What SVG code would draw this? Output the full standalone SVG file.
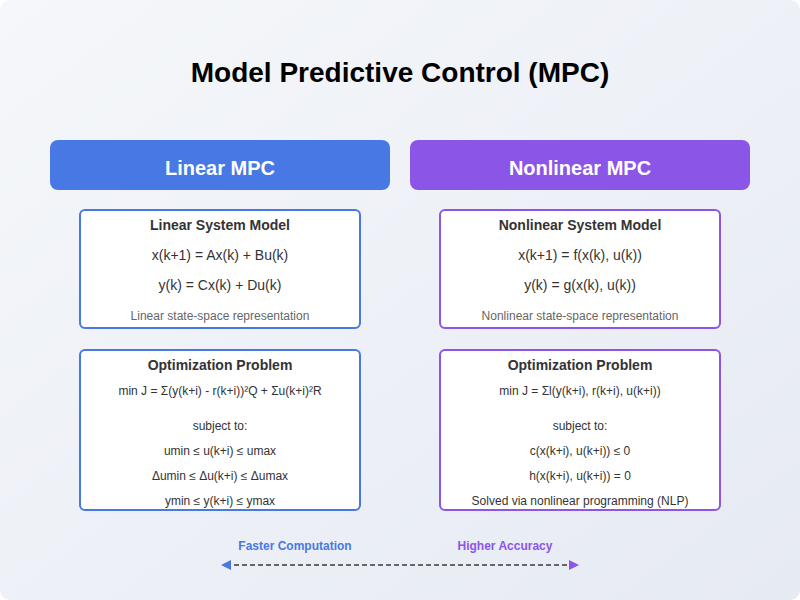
<svg xmlns="http://www.w3.org/2000/svg" width="800" height="600" viewBox="0 0 800 600">
<defs>
<linearGradient id="bg" x1="0" y1="0" x2="1" y2="1">
<stop offset="0" stop-color="#f5f7fa"/>
<stop offset="1" stop-color="#e6eaf3"/>
</linearGradient>
<marker id="mL" viewBox="0 0 10 10" refX="5" refY="5" markerWidth="10" markerHeight="10" orient="auto" markerUnits="userSpaceOnUse">
<path d="M10,0 L0,5 L10,10 z" fill="#4778e3"/>
</marker>
<marker id="mR" viewBox="0 0 10 10" refX="5" refY="5" markerWidth="10" markerHeight="10" orient="auto" markerUnits="userSpaceOnUse">
<path d="M0,0 L10,5 L0,10 z" fill="#8b55e8"/>
</marker>
<style>
text{font-family:"Liberation Sans",Arial,sans-serif;text-anchor:middle;fill:#333}
.title{font-size:28px;font-weight:bold;fill:#000}
.hdr{font-size:20px;font-weight:bold;fill:#fff}
.bt{font-size:14px;font-weight:bold;fill:#333}
.eq{font-size:14px;fill:#333}
.sm{font-size:12px;fill:#333}
.cap{font-size:12px;fill:#666}
.box{fill:#fff;stroke-width:2}
.lin{stroke:#4778e3}
.non{stroke:#8b55e8}
.lbl{font-size:12px;font-weight:bold}
</style>
</defs>
<rect x="0" y="0" width="800" height="600" rx="10" fill="url(#bg)"/>
<text class="title" x="400" y="82">Model Predictive Control (MPC)</text>

<g id="linear-header">
<rect x="50" y="140" width="340" height="50" rx="8" fill="#4778e3"/>
<text class="hdr" x="220" y="175">Linear MPC</text>
</g>
<g id="nonlinear-header">
<rect x="410" y="140" width="340" height="50" rx="8" fill="#8b55e8"/>
<text class="hdr" x="580" y="175">Nonlinear MPC</text>
</g>

<g id="linear-model">
<rect class="box lin" x="80" y="210" width="280" height="118" rx="5"/>
<text class="bt" x="220" y="230">Linear System Model</text>
<text class="eq" x="220" y="260">x(k+1) = Ax(k) + Bu(k)</text>
<text class="eq" x="220" y="290">y(k) = Cx(k) + Du(k)</text>
<text class="cap" x="220" y="320">Linear state-space representation</text>
</g>
<g id="nonlinear-model">
<rect class="box non" x="440" y="210" width="280" height="118" rx="5"/>
<text class="bt" x="580" y="230">Nonlinear System Model</text>
<text class="eq" x="580" y="260">x(k+1) = f(x(k), u(k))</text>
<text class="eq" x="580" y="290">y(k) = g(x(k), u(k))</text>
<text class="cap" x="580" y="320">Nonlinear state-space representation</text>
</g>

<g id="linear-opt">
<rect class="box lin" x="80" y="350" width="280" height="160" rx="5"/>
<text class="bt" x="220" y="370">Optimization Problem</text>
<text class="sm" x="220" y="395">min J = Σ(y(k+i) - r(k+i))²Q + Σu(k+i)²R</text>
<text class="sm" x="220" y="430">subject to:</text>
<text class="sm" x="220" y="455">umin ≤ u(k+i) ≤ umax</text>
<text class="sm" x="220" y="480">Δumin ≤ Δu(k+i) ≤ Δumax</text>
<text class="sm" x="220" y="505">ymin ≤ y(k+i) ≤ ymax</text>
</g>
<g id="nonlinear-opt">
<rect class="box non" x="440" y="350" width="280" height="160" rx="5"/>
<text class="bt" x="580" y="370">Optimization Problem</text>
<text class="sm" x="580" y="395">min J = Σl(y(k+i), r(k+i), u(k+i))</text>
<text class="sm" x="580" y="430">subject to:</text>
<text class="sm" x="580" y="455">c(x(k+i), u(k+i)) ≤ 0</text>
<text class="sm" x="580" y="480">h(x(k+i), u(k+i)) = 0</text>
<text class="sm" x="580" y="505">Solved via nonlinear programming (NLP)</text>
</g>

<g id="connectors">
<line x1="226" y1="565" x2="574" y2="565" stroke="#666" stroke-width="2" stroke-dasharray="5,3" marker-start="url(#mL)" marker-end="url(#mR)"/>
</g>
<g id="tradeoff-labels">
<text class="lbl" x="295" y="550" style="fill:#4778e3">Faster Computation</text>
<text class="lbl" x="505" y="550" style="fill:#8b55e8">Higher Accuracy</text>
</g>
</svg>
